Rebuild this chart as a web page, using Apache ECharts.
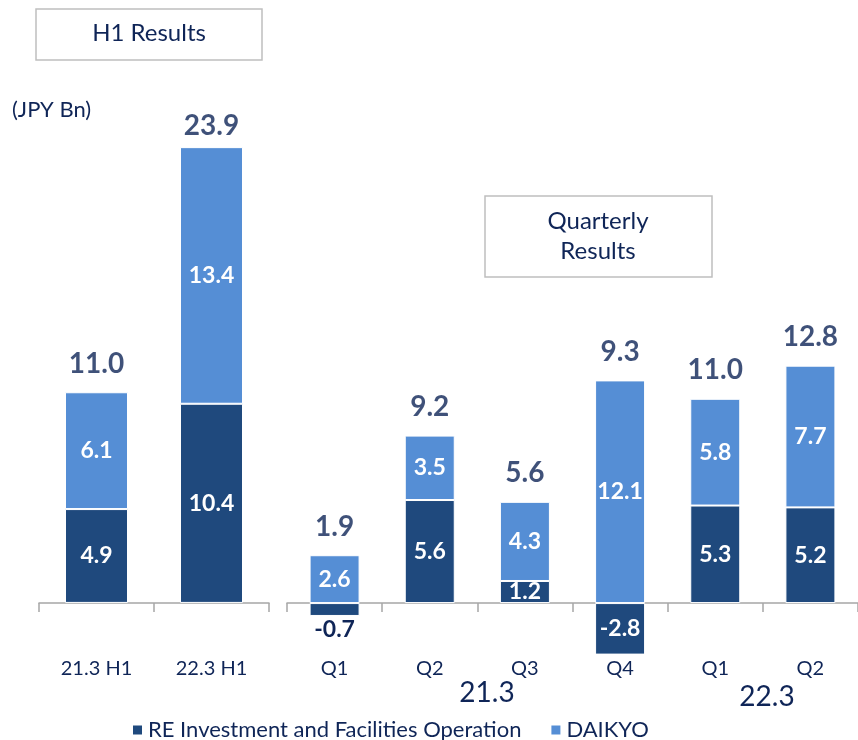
<!DOCTYPE html>
<html>
<head>
<meta charset="utf-8">
<script src="https://cdn.jsdelivr.net/npm/echarts@6/dist/echarts.min.js"></script>
<style>
html,body{margin:0;padding:0;background:#fff;}
#main{width:858px;height:740px;}
</style>
</head>
<body>
<div id="main"></div>
<script>
// ---- data ----
var halfCategories = ['21.3 H1', '22.3 H1'];
var halfRE = [4.9, 10.4];
var halfDaikyo = [6.1, 13.4];
var halfTotal = [11.0, 23.9];

var quarterCategories = ['Q1', 'Q2', 'Q3', 'Q4', 'Q1', 'Q2'];
var quarterRE = [-0.7, 5.6, 1.2, -2.8, 5.3, 5.2];
var quarterDaikyo = [2.6, 3.5, 4.3, 12.1, 5.8, 7.7];
var quarterTotal = [1.9, 9.2, 5.6, 9.3, 11.0, 12.8];

var yearLabels = ['21.3', '22.3'];
var seriesNames = ['RE Investment and Facilities Operation', 'DAIKYO'];

// ---- styles ----
var NAVY = '#0f2557';
var DARK = '#1f497d';
var LIGHT = '#558ed5';
var FONT = 'Lato, "Liberation Sans", sans-serif';

function posTop(a, b) {
  return a.map(function (v, i) { return Math.max(v, 0) + Math.max(b[i], 0); });
}

var chart = echarts.init(document.getElementById('main'), null, {renderer: 'canvas'});

var innerLabel = {
  show: true, position: 'inside', color: '#fff', fontFamily: FONT,
  fontWeight: 'bold', fontSize: 23,
  formatter: function (p) { return p.value.toFixed(1); }
};

function totalSeries(xi, a, b, totals, distances) {
  var tops = posTop(a, b);
  return {
    type: 'scatter', xAxisIndex: xi, yAxisIndex: xi, symbolSize: 1,
    itemStyle: {color: 'rgba(0,0,0,0)'}, silent: true, z: 5,
    data: tops.map(function (t, i) {
      var d = {value: t};
      if (distances && distances[i] != null) d.label = {distance: distances[i]};
      return d;
    }),
    label: {
      show: true, position: 'top', distance: 14, color: NAVY, fontFamily: FONT,
      fontWeight: 'bold', fontSize: 28,
      formatter: function (p) { return totals[p.dataIndex].toFixed(1); }
    }
  };
}

var reQData = quarterRE.map(function (v, i) {
  if (i === 0) {
    return {value: v, label: {position: 'bottom', color: NAVY, distance: 2}};
  }
  return v;
});

var axisCommon = function (gi, cats) {
  return {
    type: 'category', gridIndex: gi, data: cats,
    axisLine: {show: true, onZero: true, lineStyle: {color: '#a6a6a6', width: 1.5}},
    axisTick: {show: true, length: 9, lineStyle: {color: '#a6a6a6', width: 1.5}},
    axisLabel: {color: NAVY, fontFamily: FONT, fontSize: 20, margin: 4}
  };
};

var option = {
  backgroundColor: '#fff',
  animation: false,
  legend: {
    data: seriesNames,
    left: 126, top: 714,
    icon: 'rect', itemWidth: 11, itemHeight: 11, itemGap: 28,
    textStyle: {color: NAVY, fontFamily: FONT, fontSize: 22}
  },
  grid: [
    {left: 39, width: 230, top: 105, height: 550, containLabel: false, outerBoundsMode: 'none'},
    {left: 287, right: 0, top: 124.6, height: 530, containLabel: false, outerBoundsMode: 'none'}
  ],
  xAxis: [axisCommon(0, halfCategories), axisCommon(1, quarterCategories)],
  yAxis: [
    {type: 'value', gridIndex: 0, min: -2.72, max: 26, show: false},
    {type: 'value', gridIndex: 1, min: -2.8, max: 26, show: false}
  ],
  series: [
    {name: seriesNames[0], type: 'bar', xAxisIndex: 0, yAxisIndex: 0, stack: 'h',
     barWidth: 63, data: halfRE, itemStyle: {color: DARK, borderColor: '#fff', borderWidth: 1},
     label: innerLabel},
    {name: seriesNames[1], type: 'bar', xAxisIndex: 0, yAxisIndex: 0, stack: 'h',
     barWidth: 63, data: halfDaikyo, itemStyle: {color: LIGHT, borderColor: '#fff', borderWidth: 1},
     label: innerLabel},
    {name: seriesNames[0], type: 'bar', xAxisIndex: 1, yAxisIndex: 1, stack: 'q',
     barWidth: 50, data: reQData, itemStyle: {color: DARK, borderColor: '#fff', borderWidth: 1},
     label: innerLabel},
    {name: seriesNames[1], type: 'bar', xAxisIndex: 1, yAxisIndex: 1, stack: 'q',
     barWidth: 50, data: quarterDaikyo, itemStyle: {color: LIGHT, borderColor: '#fff', borderWidth: 1},
     label: innerLabel},
    totalSeries(0, halfRE, halfDaikyo, halfTotal, [14, 7]),
    totalSeries(1, quarterRE, quarterDaikyo, quarterTotal, null)
  ],
  graphic: [
    {type: 'rect', shape: {x: 36, y: 9, width: 226, height: 51},
     style: {fill: '#fff', stroke: '#bfbfbf', lineWidth: 1.5}},
    {type: 'text', x: 149, y: 33,
     style: {text: 'H1 Results', fill: NAVY, font: '24px ' + FONT, textAlign: 'center', textVerticalAlign: 'middle'}},
    {type: 'text', x: 12, y: 110,
     style: {text: '(JPY Bn)', fill: NAVY, font: '22px ' + FONT, textAlign: 'left', textVerticalAlign: 'middle'}},
    {type: 'rect', shape: {x: 485, y: 196, width: 227, height: 81},
     style: {fill: '#fff', stroke: '#bfbfbf', lineWidth: 1.5}},
    {type: 'text', x: 598, y: 236,
     style: {text: 'Quarterly\nResults', fill: NAVY, font: '24px ' + FONT, lineHeight: 30,
             textAlign: 'center', textVerticalAlign: 'middle'}},
    {type: 'text', x: 487, y: 693,
     style: {text: yearLabels[0], fill: NAVY, font: '28px ' + FONT, textAlign: 'center', textVerticalAlign: 'middle'}},
    {type: 'text', x: 767, y: 697,
     style: {text: yearLabels[1], fill: NAVY, font: '28px ' + FONT, textAlign: 'center', textVerticalAlign: 'middle'}}
  ]
};

chart.setOption(option);
</script>
</body>
</html>
